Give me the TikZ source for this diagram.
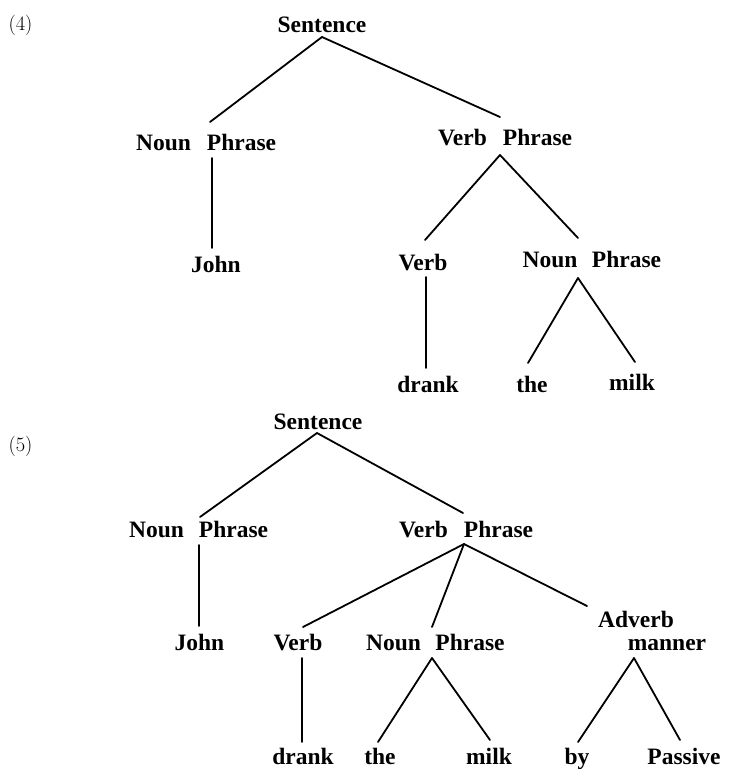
\documentclass[tikz,border=0pt]{standalone}
\usepackage{fontspec}
\newfontfamily\treefont{Liberation Serif}
\usetikzlibrary{calc}
\begin{document}
\begin{tikzpicture}[x=1pt,y=-1pt,
  w/.style={inner sep=0pt, anchor=base, font=\treefont\fontsize{23.5}{26}\selectfont\bfseries},
  num/.style={inner sep=0pt, anchor=base, font=\fontsize{20.5}{22}\selectfont},
  br/.style={line width=1.8pt, line cap=round}]
\useasboundingbox (0,0) rectangle (729,769);
% ---------- tree (4) ----------
\node[num] (n4) at (20.5,30) {(4)};
\node[w] (s1) at (322,32) {Sentence};
\node[w] (np1n) at (163.5,150) {Noun};
\node[w] (np1p) at (241.5,150) {Phrase};
\node[w] (vp1v) at (462.5,145) {Verb};
\node[w] (vp1p) at (537.5,145) {Phrase};
\node[w] (john1) at (216,272) {John};
\node[w] (verb1) at (423,270) {Verb};
\node[w] (np1bn) at (550,267) {Noun};
\node[w] (np1bp) at (626.5,267) {Phrase};
\node[w] (drank1) at (428,392) {drank};
\node[w] (the1) at (532,392) {the};
\node[w] (milk1) at (632,390) {milk};
\draw[br] ($(s1.base)+(0,5)$) -- ($(np1p.base)+(-31.5,-28)$);
\draw[br] ($(s1.base)+(0,5)$) -- ($(vp1p.base)+(-37.5,-28)$);
\draw[br] ($(np1p.base)+(-29.5,8)$) -- ($(john1.base)+(-4,-24)$);
\draw[br] ($(vp1p.base)+(-37.5,10)$) -- ($(verb1.base)+(2,-30)$);
\draw[br] ($(vp1p.base)+(-37.5,10)$) -- ($(np1bn.base)+(28,-29)$);
\draw[br] ($(verb1.base)+(3,7)$) -- ($(drank1.base)+(-2,-24)$);
\draw[br] ($(np1bn.base)+(28,11)$) -- ($(the1.base)+(-4,-29)$);
\draw[br] ($(np1bn.base)+(28,11)$) -- ($(milk1.base)+(3,-28)$);
% ---------- tree (5) ----------
\node[num] (n5) at (20.5,451) {(5)};
\node[w] (s2) at (318,429) {Sentence};
\node[w] (np2n) at (156.5,537) {Noun};
\node[w] (np2p) at (233.5,537) {Phrase};
\node[w] (vp2v) at (423.5,537) {Verb};
\node[w] (vp2p) at (498.5,537) {Phrase};
\node[w] (john2) at (199.5,650) {John};
\node[w] (verb2) at (298,650) {Verb};
\node[w] (np2bn) at (393.5,650) {Noun};
\node[w] (np2bp) at (470,650) {Phrase};
\node[w] (adv) at (636,627) {Adverb};
\node[w] (manner) at (667,650) {manner};
\node[w] (drank2) at (303,764) {drank};
\node[w] (the2) at (380,764) {the};
\node[w] (milk2) at (489,764) {milk};
\node[w] (by) at (577,764) {by};
\node[w] (passive) at (684,764) {Passive};
\draw[br] ($(s2.base)+(-1,4)$) -- ($(np2p.base)+(-33.5,-20)$);
\draw[br] ($(s2.base)+(-1,4)$) -- ($(vp2p.base)+(-35.5,-24)$);
\draw[br] ($(np2p.base)+(-34.5,8)$) -- ($(john2.base)+(-0.5,-24)$);
\draw[br] ($(vp2p.base)+(-34.5,7)$) -- ($(verb2.base)+(5,-23)$);
\draw[br] ($(vp2p.base)+(-34.5,7)$) -- ($(np2bn.base)+(38.5,-23)$);
\draw[br] ($(vp2p.base)+(-34.5,7)$) -- ($(adv.base)+(-49,-21)$);
\draw[br] ($(verb2.base)+(4,8)$) -- ($(drank2.base)+(-1,-22)$);
\draw[br] ($(np2bn.base)+(38.5,8)$) -- ($(the2.base)+(-2,-22)$);
\draw[br] ($(np2bn.base)+(38.5,8)$) -- ($(milk2.base)+(1,-24)$);
\draw[br] ($(manner.base)+(-33,8)$) -- ($(by.base)+(1,-22)$);
\draw[br] ($(manner.base)+(-33,8)$) -- ($(passive.base)+(-4,-24)$);
\end{tikzpicture}
\end{document}
